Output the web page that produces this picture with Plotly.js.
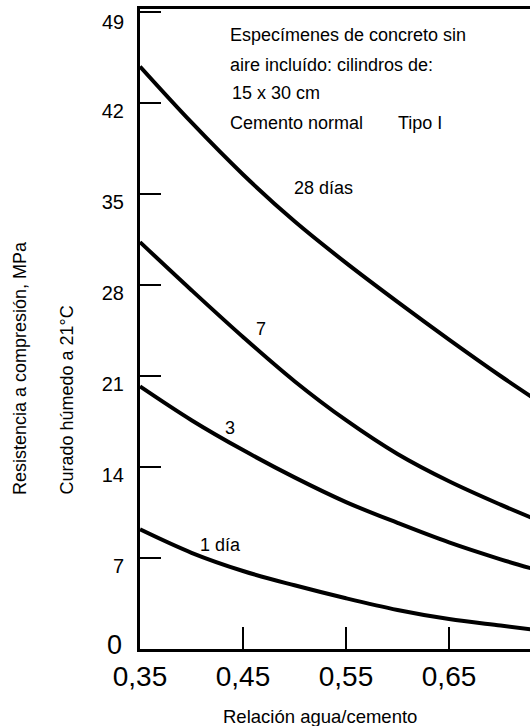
<!DOCTYPE html>
<html>
<head>
<meta charset="utf-8">
<script src="https://cdn.plot.ly/plotly-3.0.1.min.js"></script>
<style>
html,body{margin:0;padding:0;background:#fff;}
#chart{width:530px;height:726px;}
</style>
</head>
<body>
<div id="chart"></div>
<script>
// Data
var ratio   = [0.35, 0.40, 0.45, 0.50, 0.55, 0.60, 0.65, 0.70, 0.73];
var day28   = [44.8, 40.5, 36.5, 32.9, 29.7, 26.7, 23.8, 21.0, 19.4];
var day7    = [31.3, 27.6, 24.0, 20.6, 17.6, 15.0, 12.9, 11.1, 10.1];
var day3    = [20.2, 17.6, 15.3, 13.2, 11.3, 9.7, 8.2, 6.9, 6.2];
var day1    = [9.2, 7.4, 6.0, 4.9, 3.9, 3.0, 2.3, 1.8, 1.5];
var xTickVals = [0.35, 0.45, 0.55, 0.65];
var xTickText = ['0,35', '0,45', '0,55', '0,65'];
var yTickVals = [0, 7, 14, 21, 28, 35, 42, 49];
var yTickText = ['', '7', '14', '21', '28', '35', '42', ''];

var FONT = 'Liberation Sans, Arial, Helvetica, sans-serif';
var L = 140, R = 530, T = 9, B = 649;
function px(x){ return (x - L) / (R - L); }
function py(y){ return (B - y) / (B - T); }

function curve(y){
  return {x: ratio, y: y, type: 'scatter', mode: 'lines',
    line: {color: '#000', width: 4, shape: 'spline', smoothing: 1},
    hoverinfo: 'skip', showlegend: false};
}

var data = [curve(day28), curve(day7), curve(day3), curve(day1)];

function ann(text, x, y, size, xa, extra){
  var a = {text: text, x: px(x), y: py(y), xref: 'paper', yref: 'paper',
    showarrow: false, xanchor: xa || 'center', yanchor: 'middle',
    font: {family: FONT, size: size, color: '#000'}};
  if (extra) for (var k in extra) a[k] = extra[k];
  return a;
}

var annotations = [
  ann('Especímenes de concreto sin', 228, 35, 18, 'left'),
  ann('aire incluído: cilindros de:', 228, 65, 18, 'left'),
  ann('15 x 30 cm', 230, 93, 18, 'left'),
  ann('Cemento normal', 228, 123, 18, 'left'),
  ann('Tipo I', 396, 123, 18, 'left'),
  ann('28 días', 323, 188, 18),
  ann('7', 261, 329, 18),
  ann('3', 230, 428, 18),
  ann('1 día', 220, 545, 18),
  ann('Relación agua/cemento', 320, 716, 18.5),
  ann('Resistencia a compresión, MPa', 20, 497, 18, 'center', {textangle: -90, yanchor: 'bottom'}),
  ann('Curado húmedo a 21°C', 66, 497, 18, 'center', {textangle: -90, yanchor: 'bottom'}),
  ann('49', 126, 22, 20, 'right'),
  ann('0', 124, 645, 27, 'right')
];

var layout = {
  width: 530, height: 726,
  margin: {l: L, r: 530 - R, t: T, b: 726 - B, pad: 0},
  paper_bgcolor: '#fff', plot_bgcolor: '#fff',
  font: {family: FONT, color: '#000'},
  showlegend: false,
  xaxis: {
    range: [0.35, 0.7286], showgrid: false, zeroline: false,
    showline: true, linecolor: '#000', linewidth: 3, mirror: true,
    ticks: 'inside', ticklen: 22, tickwidth: 2, tickcolor: '#000',
    tickvals: xTickVals, ticktext: xTickText,
    tickfont: {family: FONT, size: 28, color: '#000'},
    ticklabelstandoff: 0, fixedrange: true
  },
  yaxis: {
    range: [0, 49.23], showgrid: false, zeroline: false,
    showline: true, linecolor: '#000', linewidth: 3,
    ticks: 'inside', ticklen: 21, tickwidth: 2, tickcolor: '#000',
    tickvals: yTickVals, ticktext: yTickText,
    tickfont: {family: FONT, size: 20, color: '#000'},
    ticklabelstandoff: 9, ticklabelshift: 8, fixedrange: true
  },
  annotations: annotations
};

Plotly.newPlot('chart', data, layout, {staticPlot: true, displayModeBar: false});
</script>
</body>
</html>
